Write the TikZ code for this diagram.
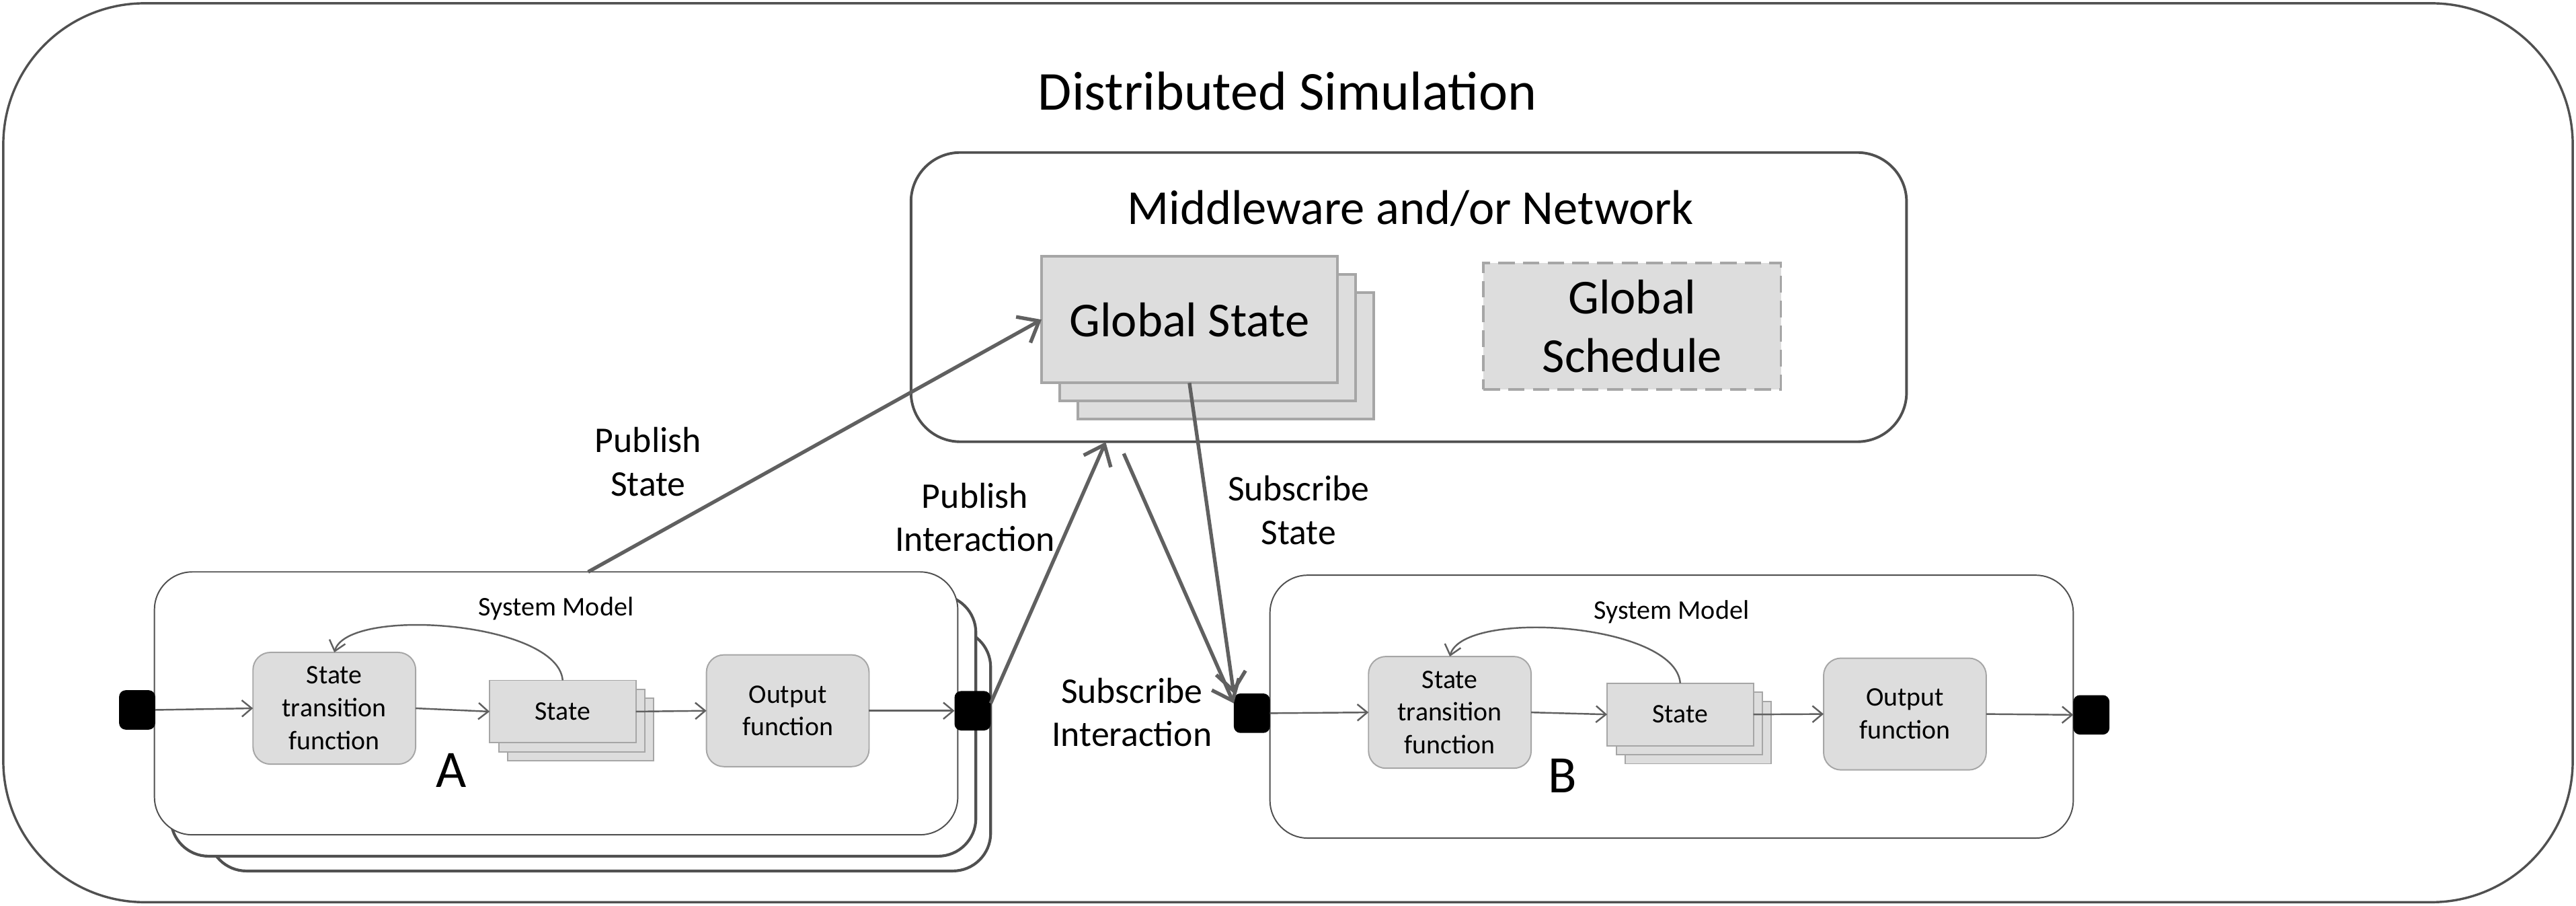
\documentclass[tikz,border=0pt]{standalone}
\usepackage{fontspec}
\setmainfont{Carlito}
\usepackage{tikz}
\usetikzlibrary{calc,arrows.meta}
\definecolor{boxfill}{HTML}{DDDDDD}
\definecolor{boxline}{HTML}{A6A6A6}
\definecolor{frame}{HTML}{505050}
\definecolor{arrowgray}{HTML}{606060}

\begin{document}
\begin{tikzpicture}[x=0.5pt,y=-0.5pt,
	every node/.style={inner sep=0pt,outer sep=0pt},
	fbox/.style={draw=boxline,fill=boxfill,line width=0.4pt,rounded corners=5.3pt,minimum width=49.5pt,minimum height=34pt,align=center,font=\fontsize{8.15}{10}\selectfont},
	statebox/.style={draw=boxline,fill=boxfill,line width=0.4pt,minimum width=44.5pt,minimum height=19pt,font=\fontsize{8.15}{10}\selectfont},
	gsbox/.style={draw=boxline,fill=boxfill,line width=0.8pt,minimum width=90pt,minimum height=38.5pt,align=center,font=\fontsize{14.85}{17.7}\selectfont},
	port/.style={fill=black,rounded corners=2pt,minimum width=11pt,minimum height=12pt},
	modelbox/.style={draw=frame,fill=white,line width=0.4pt,rounded corners=11.5pt,minimum width=244.5pt,minimum height=80pt},
	backbox/.style={draw=frame,fill=white,line width=0.85pt,rounded corners=11.5pt},
	lbl/.style={align=center,font=\fontsize{11}{13.25}\selectfont},
	smallarrow/.style={draw=arrowgray,line width=0.5pt,-{Straight Barb[length=3pt,width=5pt]}},
	bigarrow/.style={draw=arrowgray,line width=1.1pt,-{Straight Barb[length=5.5pt,width=9pt]}}]
	\useasboundingbox (0,0) rectangle (1568,551);
	\node[draw=frame,line width=0.7pt,rounded corners=43pt,minimum width=782pt,minimum height=273.5pt] (sim) at (784,275.5) {}; %outer
	\node[font=\fontsize{16.7}{20}\selectfont] (title) at (783.6,55.5) {Distributed Simulation};
	% middleware
	\node[draw=frame,line width=0.8pt,rounded corners=15pt,minimum width=303pt,minimum height=88pt] (mw) at (857.5,180.8) {};
	\node[font=\fontsize{14.85}{17.7}\selectfont] (mwlbl) at (858.5,127) {Middleware and/or Network};
	\coordinate (gsc) at (724,194.5);
	\foreach \d in {22,11}{
		\node[gsbox] (gs\d) at ($(gsc)+(\d,\d)$) {};
	}
	\node[gsbox] (gs) at (gsc) {Global State};
	\node[gsbox,dashed,dash pattern=on 5pt off 2.5pt,minimum width=90.5pt] (gsched) at (993.5,198.5) {Global\\Schedule};
	% system model A
	\node[backbox,minimum width=238pt,minimum height=73.5pt] (modelA3) at (365,456.5) {};
	\node[backbox,minimum width=245pt,minimum height=79.5pt] (modelA2) at (349,441.5) {};
	\node[modelbox] (modelA) at (338.5,428) {};
	\node[font=\fontsize{8.2}{10}\selectfont] (smA) at ($(modelA.north)+(0,22.5)$) {System Model};
	\node[port] (portAi) at (83.5,432) {};
	\node[fbox] (stfA) at (203.5,431) {State\\transition\\function};
	\coordinate (stAc) at (342.5,433);
	\foreach \d in {11,5.5}{
		\node[statebox] (stateA\d) at ($(stAc)+(\d,\d)$) {};
	}
	\node[statebox] (stateA) at (stAc) {State};
	\node[fbox] (outA) at (479.5,432.5) {Output\\function};
	\node[port] (portAo) at (592,432.5) {};
	\node[font=\fontsize{16}{19}\selectfont] (nameA) at ($(modelA.center)+(-64,41)$) {A};
	% system model B
	\node[modelbox] (modelB) at (1017.5,430) {};
	\node[font=\fontsize{8.2}{10}\selectfont] (smB) at ($(modelB.north)+(0,22.5)$) {System Model};
	\node[port] (portBi) at (762,434) {};
	\node[fbox] (stfB) at (882.5,433.5) {State\\transition\\function};
	\coordinate (stBc) at (1022.75,434.75);
	\foreach \d in {11,5.5}{
		\node[statebox] (stateB\d) at ($(stBc)+(\d,\d)$) {};
	}
	\node[statebox] (stateB) at (stBc) {State};
	\node[fbox] (outB) at (1159.5,434.5) {Output\\function};
	\node[port] (portBo) at (1273,435) {};
	\node[font=\fontsize{16}{19}\selectfont] (nameB) at ($(modelB.center)+(-66.5,42)$) {B};
	% inner arrows
	\draw[smallarrow] (portAi.east) -- (stfA.west);
	\draw[smallarrow] (stfA.east) -- (stateA.west);
	\draw[smallarrow] (stateA.east) -- (outA.west);
	\draw[smallarrow] (outA.east) -- (portAo.west);
	\draw[smallarrow] (stateA.north) .. controls +(-3,-36) and +(8,-28) .. (stfA.north); %feedback
	\draw[smallarrow] (portBi.east) -- (stfB.west);
	\draw[smallarrow] (stfB.east) -- (stateB.west);
	\draw[smallarrow] (stateB.east) -- (outB.west);
	\draw[smallarrow] (outB.east) -- (portBo.west);
	\draw[smallarrow] (stateB.north) .. controls +(-3,-37) and +(8,-29) .. (stfB.north); %feedback
	% publish / subscribe
	\coordinate (pubint) at (673,269);
	\coordinate (subint) at (684,276);
	\draw[bigarrow] ($(modelA.north)+(19.5,0)$) -- (gs.west);
	\draw[bigarrow] ($(portAo.east)+(0,-4.5)$) -- (pubint);
	\draw[bigarrow] (subint) -- ($(portBi.north west)+(0,6)$);
	\draw[bigarrow] (gs.south) -- (portBi.north west);
	\node[lbl] (pslbl) at (394.5,281) {Publish\\State};
	\node[lbl] (pilbl) at (593.5,314.8) {Publish\\Interaction};
	\node[lbl] (sslbl) at (790.5,310.5) {Subscribe\\State};
	\node[lbl] (silbl) at (689,433.5) {Subscribe\\Interaction};
\end{tikzpicture}
\end{document}
